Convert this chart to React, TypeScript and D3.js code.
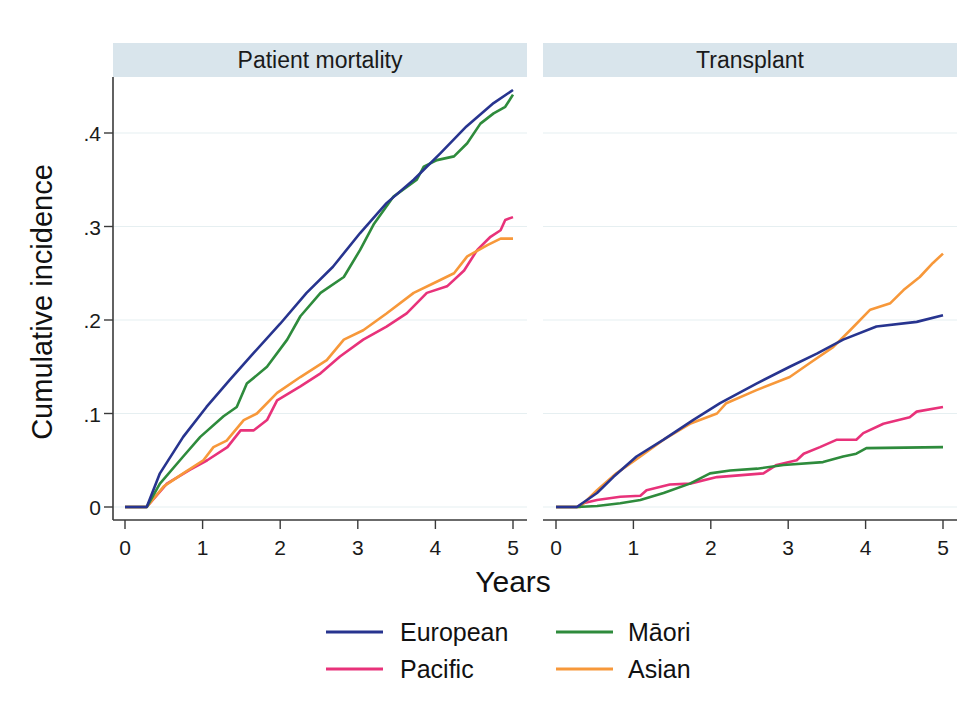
import React from "react";
import * as d3 from "d3";

type Pt = [number, number];

// Cumulative incidence curves: [years, incidence]
const mortalityEuropean: Pt[] = [
  [0, 0], [0.28, 0], [0.45, 0.036], [0.75, 0.075], [1.05, 0.107], [1.35, 0.136],
  [1.65, 0.164], [2.0, 0.196], [2.34, 0.229], [2.68, 0.257], [3.03, 0.293],
  [3.37, 0.325], [3.72, 0.35], [4.06, 0.378], [4.4, 0.407], [4.75, 0.432], [5.0, 0.446],
];
const mortalityMaori: Pt[] = [
  [0, 0], [0.28, 0], [0.45, 0.025], [0.75, 0.054], [0.97, 0.075], [1.27, 0.097],
  [1.44, 0.107], [1.57, 0.132], [1.83, 0.15], [2.09, 0.179], [2.26, 0.204],
  [2.52, 0.229], [2.82, 0.246], [3.03, 0.275], [3.21, 0.303], [3.46, 0.332],
  [3.76, 0.35], [3.85, 0.364], [4.02, 0.371], [4.24, 0.375], [4.41, 0.389],
  [4.58, 0.41], [4.75, 0.421], [4.9, 0.428], [5.0, 0.441],
];
const mortalityPacific: Pt[] = [
  [0, 0], [0.28, 0], [0.54, 0.025], [0.84, 0.04], [1.06, 0.05], [1.32, 0.064],
  [1.49, 0.082], [1.66, 0.082], [1.83, 0.093], [1.96, 0.114], [2.26, 0.129],
  [2.52, 0.143], [2.77, 0.161], [3.07, 0.179], [3.37, 0.193], [3.63, 0.207],
  [3.89, 0.229], [4.15, 0.236], [4.37, 0.253], [4.54, 0.275], [4.71, 0.289],
  [4.84, 0.296], [4.9, 0.307], [5.0, 0.31],
];
const mortalityAsian: Pt[] = [
  [0, 0], [0.28, 0], [0.5, 0.022], [0.75, 0.036], [1.01, 0.05], [1.14, 0.064],
  [1.31, 0.071], [1.53, 0.093], [1.7, 0.1], [1.96, 0.122], [2.26, 0.139],
  [2.6, 0.157], [2.82, 0.179], [3.07, 0.189], [3.37, 0.207], [3.72, 0.229],
  [3.97, 0.239], [4.24, 0.25], [4.41, 0.268], [4.67, 0.28], [4.84, 0.287], [5.0, 0.287],
];

const transplantEuropean: Pt[] = [
  [0, 0], [0.27, 0], [0.53, 0.015], [0.74, 0.032], [1.04, 0.054], [1.39, 0.072],
  [1.77, 0.093], [2.12, 0.111], [2.59, 0.132], [3.02, 0.15], [3.37, 0.164],
  [3.71, 0.179], [4.14, 0.193], [4.66, 0.198], [5.0, 0.205],
];
const transplantMaori: Pt[] = [
  [0, 0], [0.27, 0], [0.53, 0.001], [0.83, 0.004], [1.09, 0.0075], [1.39, 0.015],
  [1.73, 0.025], [1.99, 0.036], [2.25, 0.039], [2.6, 0.041], [2.94, 0.045],
  [3.45, 0.048], [3.71, 0.054], [3.88, 0.057], [4.01, 0.063], [5.0, 0.064],
];
const transplantPacific: Pt[] = [
  [0, 0], [0.27, 0], [0.35, 0.004], [0.53, 0.0075], [0.83, 0.011], [1.09, 0.012],
  [1.17, 0.018], [1.47, 0.024], [1.73, 0.025], [2.08, 0.032], [2.68, 0.036],
  [2.85, 0.045], [3.11, 0.05], [3.2, 0.057], [3.41, 0.064], [3.63, 0.072],
  [3.88, 0.072], [3.97, 0.079], [4.23, 0.089], [4.57, 0.096], [4.66, 0.102], [5.0, 0.107],
];
const transplantAsian: Pt[] = [
  [0, 0], [0.31, 0], [0.53, 0.018], [0.78, 0.036], [1.09, 0.054], [1.39, 0.072],
  [1.73, 0.089], [2.08, 0.1], [2.2, 0.111], [2.59, 0.125], [3.02, 0.139],
  [3.28, 0.154], [3.58, 0.171], [3.8, 0.189], [4.06, 0.211], [4.32, 0.218],
  [4.49, 0.232], [4.7, 0.246], [4.87, 0.261], [5.0, 0.271],
];

// legend order: row by row, two columns
const groups = ["European", "Māori", "Pacific", "Asian"];
const groupColors: Record<string, string> = {
  European: "#27348f",
  Pacific: "#e8327a",
  "Māori": "#2e8b3c",
  Asian: "#f7983a",
};

const panelTitles = ["Patient mortality", "Transplant"];
const panelSeries: Record<string, Pt[]>[] = [
  { European: mortalityEuropean, "Māori": mortalityMaori, Pacific: mortalityPacific, Asian: mortalityAsian },
  { European: transplantEuropean, "Māori": transplantMaori, Pacific: transplantPacific, Asian: transplantAsian },
];
// draw order (back to front)
const drawOrder = ["Pacific", "Asian", "Māori", "European"];

const xTicks = [0, 1, 2, 3, 4, 5];
const yTicks = [0, 0.1, 0.2, 0.3, 0.4];
const yTickLabels = ["0", ".1", ".2", ".3", ".4"];

const W = 976;
const H = 717;
const FONT = "'Liberation Sans', Arial, Helvetica, sans-serif";

const panels = [
  { left: 113, right: 527, x0: 125, x5: 513 },
  { left: 543, right: 957, x0: 556, x5: 943 },
];
const stripTop = 43;
const stripBottom = 77;
const axisY = 520;

const y = d3.scaleLinear().domain([0, 0.4]).range([507, 133]);

export default function App() {
  return (
    <svg
      width={W}
      height={H}
      style={{ position: "absolute", left: 0, top: 0, background: "#fff" }}
      fontFamily={FONT}
    >
      <rect width={W} height={H} fill="#fff" />
      {panels.map((p, i) => {
        const x = d3.scaleLinear().domain([0, 5]).range([p.x0, p.x5]);
        const line = d3
          .line<Pt>()
          .x((d) => x(d[0]))
          .y((d) => y(d[1]));
        return (
          <g key={i}>
            {/* title strip */}
            <rect x={p.left} y={stripTop} width={p.right - p.left} height={stripBottom - stripTop} fill="#d9e5ec" />
            <text
              x={(p.left + p.right) / 2}
              y={(stripTop + stripBottom) / 2 + 8}
              textAnchor="middle"
              fontSize={23}
              fill="#1a1a1a"
            >
              {panelTitles[i]}
            </text>
            {/* gridlines */}
            {yTicks.map((t) => (
              <line key={t} x1={p.left} x2={p.right} y1={y(t)} y2={y(t)} stroke="#e6eff1" strokeWidth={1.2} />
            ))}
            {/* curves */}
            {drawOrder.map((g) => (
              <path
                key={g}
                d={line(panelSeries[i][g]) || ""}
                fill="none"
                stroke={groupColors[g]}
                strokeWidth={2.6}
                strokeLinejoin="round"
              />
            ))}
            {/* x axis */}
            <line x1={p.left} x2={p.right} y1={axisY} y2={axisY} stroke="#3a3a3a" strokeWidth={1.6} />
            {xTicks.map((t) => (
              <g key={t}>
                <line x1={x(t)} x2={x(t)} y1={axisY} y2={axisY + 9} stroke="#3a3a3a" strokeWidth={1.4} />
                <text x={x(t)} y={axisY + 35} textAnchor="middle" fontSize={21} fill="#1a1a1a">
                  {t}
                </text>
              </g>
            ))}
            {/* y axis on the first panel only */}
            {i === 0 && (
              <g>
                <line x1={p.left} x2={p.left} y1={stripBottom} y2={axisY} stroke="#3a3a3a" strokeWidth={1.6} />
                {yTicks.map((t, k) => (
                  <g key={t}>
                    <line x1={p.left - 9} x2={p.left} y1={y(t)} y2={y(t)} stroke="#3a3a3a" strokeWidth={1.4} />
                    <text x={p.left - 12} y={y(t) + 8} textAnchor="end" fontSize={21} fill="#1a1a1a">
                      {yTickLabels[k]}
                    </text>
                  </g>
                ))}
              </g>
            )}
          </g>
        );
      })}

      {/* axis titles */}
      <text
        transform={`translate(52, 302) rotate(-90)`}
        textAnchor="middle"
        fontSize={29}
        fill="#111"
      >
        Cumulative incidence
      </text>
      <text x={513} y={592} textAnchor="middle" fontSize={30} fill="#111">
        Years
      </text>

      {/* legend */}
      {groups.map((g, k) => {
        const col = k % 2;
        const row = Math.floor(k / 2);
        const lx = col === 0 ? 326 : 556;
        const ly = row === 0 ? 632 : 669;
        return (
          <g key={g}>
            <line x1={lx} x2={lx + 57} y1={ly} y2={ly} stroke={groupColors[g]} strokeWidth={2.8} />
            <text x={lx + (col === 0 ? 74 : 72)} y={ly + 9} fontSize={25} fill="#111">
              {g}
            </text>
          </g>
        );
      })}
    </svg>
  );
}
